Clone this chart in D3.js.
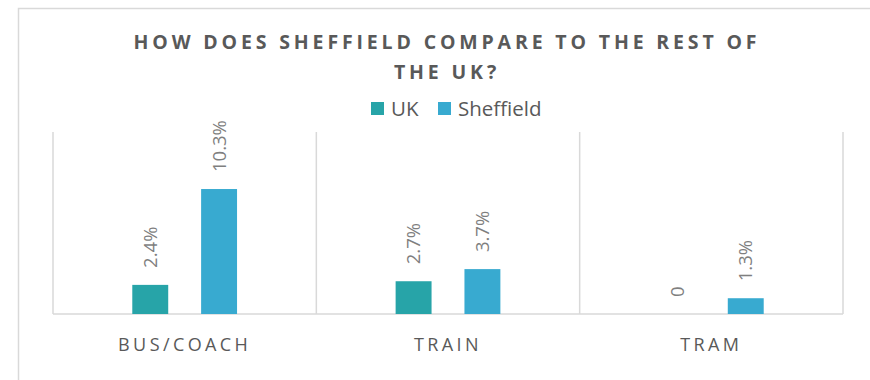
<!DOCTYPE html>
<html>
<head>
<meta charset="utf-8">
<script src="https://cdn.jsdelivr.net/npm/d3@7"></script>
<style>
  html, body { margin: 0; padding: 0; background: #fff; }
  svg { display: block; }
</style>
</head>
<body>
<svg id="chart" width="870" height="380"></svg>
<script>
// Share of commuters by public transport mode
const categories = ["BUS/COACH", "TRAIN", "TRAM"];
const seriesNames = ["UK", "Sheffield"];
const ukValues = [2.4, 2.7, 0];
const sheffieldValues = [10.3, 3.7, 1.3];
const labelsUK = ["2.4%", "2.7%", "0"];
const labelsSheffield = ["10.3%", "3.7%", "1.3%"];
const colors = ["#27A4A8", "#38AAD0"];
const titleLines = ["HOW DOES SHEFFIELD COMPARE TO THE REST OF", "THE UK?"];

const font = "'Open Sans', 'Noto Sans', sans-serif";
const svg = d3.select("#chart");

// outer chart frame
svg.append("rect")
  .attr("x", 18.5).attr("y", 8.5)
  .attr("width", 900).attr("height", 420)
  .attr("fill", "none").attr("stroke", "#D9D9D9").attr("stroke-width", 1.5);

const plot = { left: 53, right: 843, top: 132, bottom: 314 };

const x0 = d3.scaleBand().domain(categories).range([plot.left, plot.right]).padding(0);
const x1 = d3.scaleBand().domain(seriesNames).range([0, x0.bandwidth()])
  .paddingInner(0.478).paddingOuter(1.152);
const y = d3.scaleLinear().domain([0, 15]).range([plot.bottom, plot.top]);

// category separators
const bounds = categories.map(c => x0(c)).concat([plot.right]);
svg.append("g").selectAll("line").data(bounds).join("line")
  .attr("x1", d => d).attr("x2", d => d)
  .attr("y1", plot.top).attr("y2", plot.bottom)
  .attr("stroke", "#D9D9D9").attr("stroke-width", 1.5);

// baseline
svg.append("line")
  .attr("x1", plot.left).attr("x2", plot.right)
  .attr("y1", y(0)).attr("y2", y(0))
  .attr("stroke", "#D9D9D9").attr("stroke-width", 1.5);

const rows = categories.map((c, i) => ({
  cat: c,
  vals: [
    { s: "UK", v: ukValues[i], label: labelsUK[i] },
    { s: "Sheffield", v: sheffieldValues[i], label: labelsSheffield[i] }
  ]
}));

const groups = svg.append("g").selectAll("g").data(rows).join("g")
  .attr("transform", d => `translate(${x0(d.cat)},0)`);

groups.selectAll("rect").data(d => d.vals).join("rect")
  .attr("x", d => x1(d.s))
  .attr("width", x1.bandwidth())
  .attr("y", d => y(d.v))
  .attr("height", d => y(0) - y(d.v))
  .attr("fill", (d, i) => colors[i]);

// rotated value labels above bars
groups.selectAll("text").data(d => d.vals).join("text")
  .attr("transform", d => `translate(${x1(d.s) + x1.bandwidth() / 2},${y(d.v) - 17}) rotate(-90)`)
  .attr("dy", "0.36em")
  .attr("text-anchor", "start")
  .attr("font-family", font)
  .attr("font-size", 18.5)
  .attr("fill", "#7F7F7F")
  .text(d => d.label);

// category axis labels
const xAxis = d3.axisBottom(x0).tickSize(0).tickPadding(0);
const axisG = svg.append("g").attr("transform", `translate(0,${plot.bottom})`).call(xAxis);
axisG.select(".domain").remove();
axisG.selectAll("text")
  .attr("y", 37)
  .attr("dy", 0)
  .attr("font-family", font)
  .attr("font-size", 18)
  .attr("letter-spacing", "3.4px")
  .attr("fill", "#595959");

// title
svg.append("g").selectAll("text").data(titleLines).join("text")
  .attr("x", 447)
  .attr("y", (d, i) => 48.5 + i * 30)
  .attr("text-anchor", "middle")
  .attr("font-family", font)
  .attr("font-weight", "bold")
  .attr("font-size", 19.5)
  .attr("letter-spacing", "3.85px")
  .attr("fill", "#595959")
  .text(d => d);

// legend
const legendItems = [
  { name: "UK", x: 371, color: colors[0] },
  { name: "Sheffield", x: 438, color: colors[1] }
];
const lg = svg.append("g").selectAll("g").data(legendItems).join("g")
  .attr("transform", d => `translate(${d.x},102)`);
lg.append("rect").attr("width", 13).attr("height", 13).attr("fill", d => d.color);
lg.append("text")
  .attr("x", 20).attr("y", 13.5)
  .attr("font-family", font)
  .attr("font-size", 20.5)
  .attr("fill", "#595959")
  .text(d => d.name);
</script>
</body>
</html>
